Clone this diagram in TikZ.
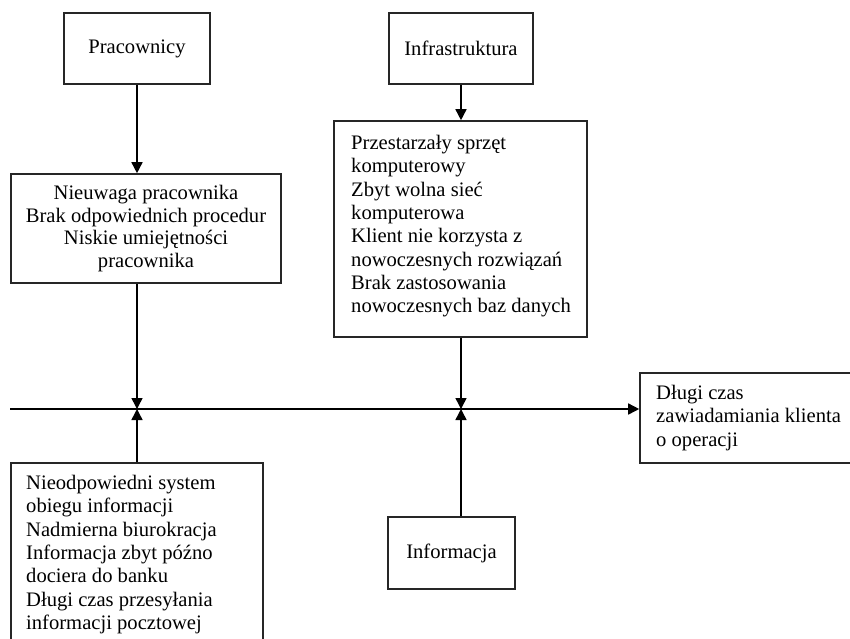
\documentclass[tikz,border=0pt]{standalone}
\usepackage{fontspec}
\setmainfont{Liberation Serif}
\usetikzlibrary{arrows.meta}
\begin{document}
\begin{tikzpicture}[x=1pt,y=-1pt,
  box/.style={draw=black!85, line width=1.6pt, inner sep=0pt, align=center,
    font=\fontsize{20.6}{22.5}\selectfont},
  txt/.style={inner sep=0pt, align=left, anchor=north west,
    font=\fontsize{20.6}{23.3}\selectfont},
  conn/.style={line width=1.5pt, -{Triangle[length=11pt,width=11pt]}}]
\useasboundingbox (0,0) rectangle (850,638);
\clip (0,0) rectangle (850,638);
% boxes
\node[box, minimum width=146pt, minimum height=71pt] (prac) at (137,48.5) {Pracownicy};
\node[box, minimum width=270pt, minimum height=109pt] (prac2) at (146,228.5)
  {Nieuwaga pracownika\\Brak odpowiednich procedur\\Niskie umiejętności\\pracownika};
\node[box, minimum width=144pt, minimum height=71pt] (infra) at (461,48.5) {Infrastruktura};
\node[box, minimum width=253pt, minimum height=216pt] (infra2) at (460.5,229) {};
\node[box, minimum width=252pt, minimum height=197pt] (info2) at (137,561.5) {};
\node[box, minimum width=127pt, minimum height=72pt] (info) at (451.5,553) {Informacja};
\node[box, minimum width=230pt, minimum height=90pt] (res) at (755,418) {};
% left-aligned texts
\node[txt] (infra2t) at (351,135) {Przestarzały sprzęt\\komputerowy\\Zbyt wolna sieć\\komputerowa\\Klient nie korzysta z\\nowoczesnych rozwiązań\\Brak zastosowania\\nowoczesnych baz danych};
\node[txt] (info2t) at (26,475) {Nieodpowiedni system\\obiegu informacji\\Nadmierna biurokracja\\Informacja zbyt późno\\dociera do banku\\Długi czas przesyłania\\informacji pocztowej};
\node[txt] (rest) at (656,385) {Długi czas\\zawiadamiania klienta\\o operacji};
% junctions
\coordinate (j1) at (137,409);
\coordinate (j2) at (461,409);
\coordinate (start) at (10,409);
% connectors
\draw[conn] (prac.south) -- (prac.south |- prac2.north);
\draw[conn] (prac.south |- prac2.south) -- (j1);
\draw[conn] (j1 |- info2.north) -- (j1);
\draw[conn] (infra.south) -- (infra.south |- infra2.north);
\draw[conn] (infra.south |- infra2.south) -- (j2);
\draw[conn] (j2 |- info.north) -- (j2);
\draw[conn] (start) -- (start -| res.west);
\end{tikzpicture}
\end{document}
